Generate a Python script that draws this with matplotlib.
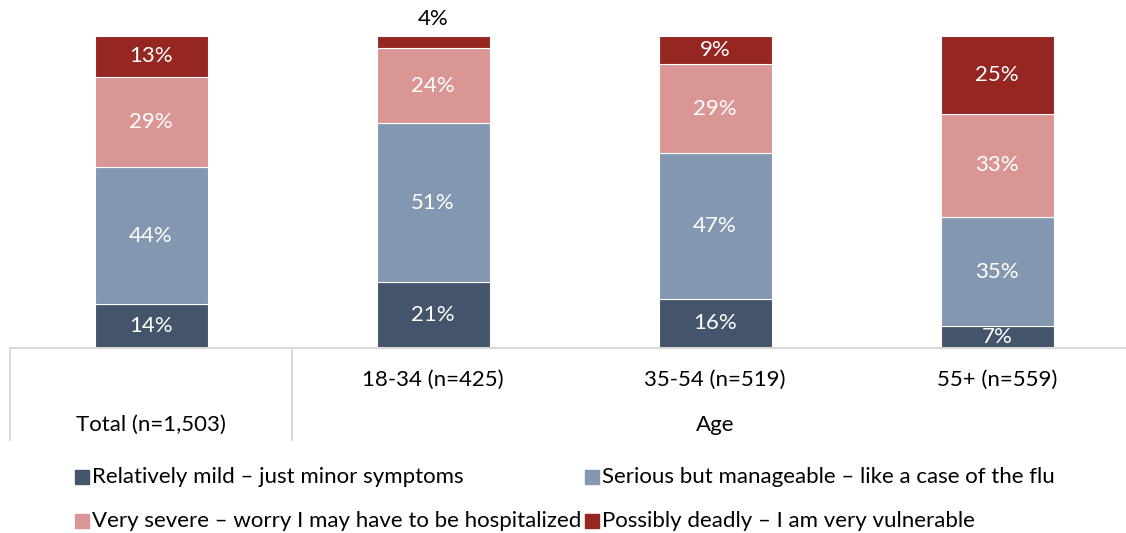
import matplotlib
matplotlib.use("Agg")
import matplotlib.pyplot as plt
from matplotlib.patches import Rectangle
from matplotlib.lines import Line2D
import numpy as np

plt.rcParams['font.family'] = ['Lato', 'DejaVu Sans']

groups = ["Total (n=1,503)", "18-34 (n=425)", "35-54 (n=519)", "55+ (n=559)"]
group_header = "Age"
series_names = ["Relatively mild \u2013 just minor symptoms",
                "Serious but manageable \u2013 like a case of the flu",
                "Very severe \u2013 worry I may have to be hospitalized",
                "Possibly deadly \u2013 I am very vulnerable"]
mild = [14, 21, 16, 7]
serious = [44, 51, 47, 35]
severe = [29, 24, 29, 33]
deadly = [13, 4, 9, 25]
colors = ["#44546A", "#8497B0", "#DA9694", "#962621"]

W, H = 1126, 533
fig = plt.figure(figsize=(W / 100, H / 100), dpi=100)

ax_left, ax_right, ax_top, ax_bot = 10, 1126, 36, 348
slot = 282
ax = fig.add_axes([ax_left / W, (H - ax_bot) / H, (ax_right - ax_left) / W, (ax_bot - ax_top) / H])

data = np.array([mild, serious, severe, deadly], dtype=float)
totals = data.sum(axis=0)
shares = data / totals * 100
x = np.arange(len(groups))
bw = 113 / slot
fs = 16
bottom = np.zeros(len(groups))
for i in range(4):
    ax.bar(x, shares[i], bw, bottom=bottom, color=colors[i], edgecolor="white", linewidth=0.8)
    for j in range(len(groups)):
        val = int(data[i, j])
        if shares[i, j] >= 6:
            ax.text(x[j], bottom[j] + shares[i, j] / 2, f"{val}%", ha="center", va="center",
                    color="white", fontsize=fs)
        else:
            ax.annotate(f"{val}%", (x[j], bottom[j] + shares[i, j]), xytext=(0, 5),
                        textcoords="offset points", ha="center", va="bottom",
                        color="black", fontsize=fs)
    bottom += shares[i]

ax.set_xlim(-0.5, -0.5 + (ax_right - ax_left) / slot)
ax.set_ylim(0, 100)
ax.axis("off")

# axis / table lines
gray = "#D9D9D9"
fig.add_artist(Line2D([ax_left / W, 1], [(H - ax_bot) / H] * 2, color=gray, lw=1.5))
for xv in [ax_left, ax_left + slot]:
    fig.add_artist(Line2D([xv / W] * 2, [(H - ax_bot) / H, (H - 440) / H], color=gray, lw=1.5))

# category labels
for j in range(1, 4):
    cx = ax_left + slot * (j + 0.5)
    fig.text(cx / W, (H - 380) / H, groups[j], ha="center", va="center", fontsize=fs, color="black")
fig.text((ax_left + slot * 0.5) / W, (H - 425) / H, groups[0], ha="center", va="center", fontsize=fs, color="black")
fig.text((ax_left + slot * 2.5) / W, (H - 425) / H, group_header, ha="center", va="center", fontsize=fs, color="black")

# legend
pos = [(75, 477), (585, 477), (75, 521), (585, 521)]
sq = 14
for (px, py), name, c in zip(pos, series_names, colors):
    fig.add_artist(Rectangle((px / W, (H - py - sq / 2) / H), sq / W, sq / H, color=c, transform=fig.transFigure))
    fig.text((px + sq + 3) / W, (H - py) / H, name, ha="left", va="center", fontsize=fs, color="black")

fig.savefig("out.png", dpi=100)
